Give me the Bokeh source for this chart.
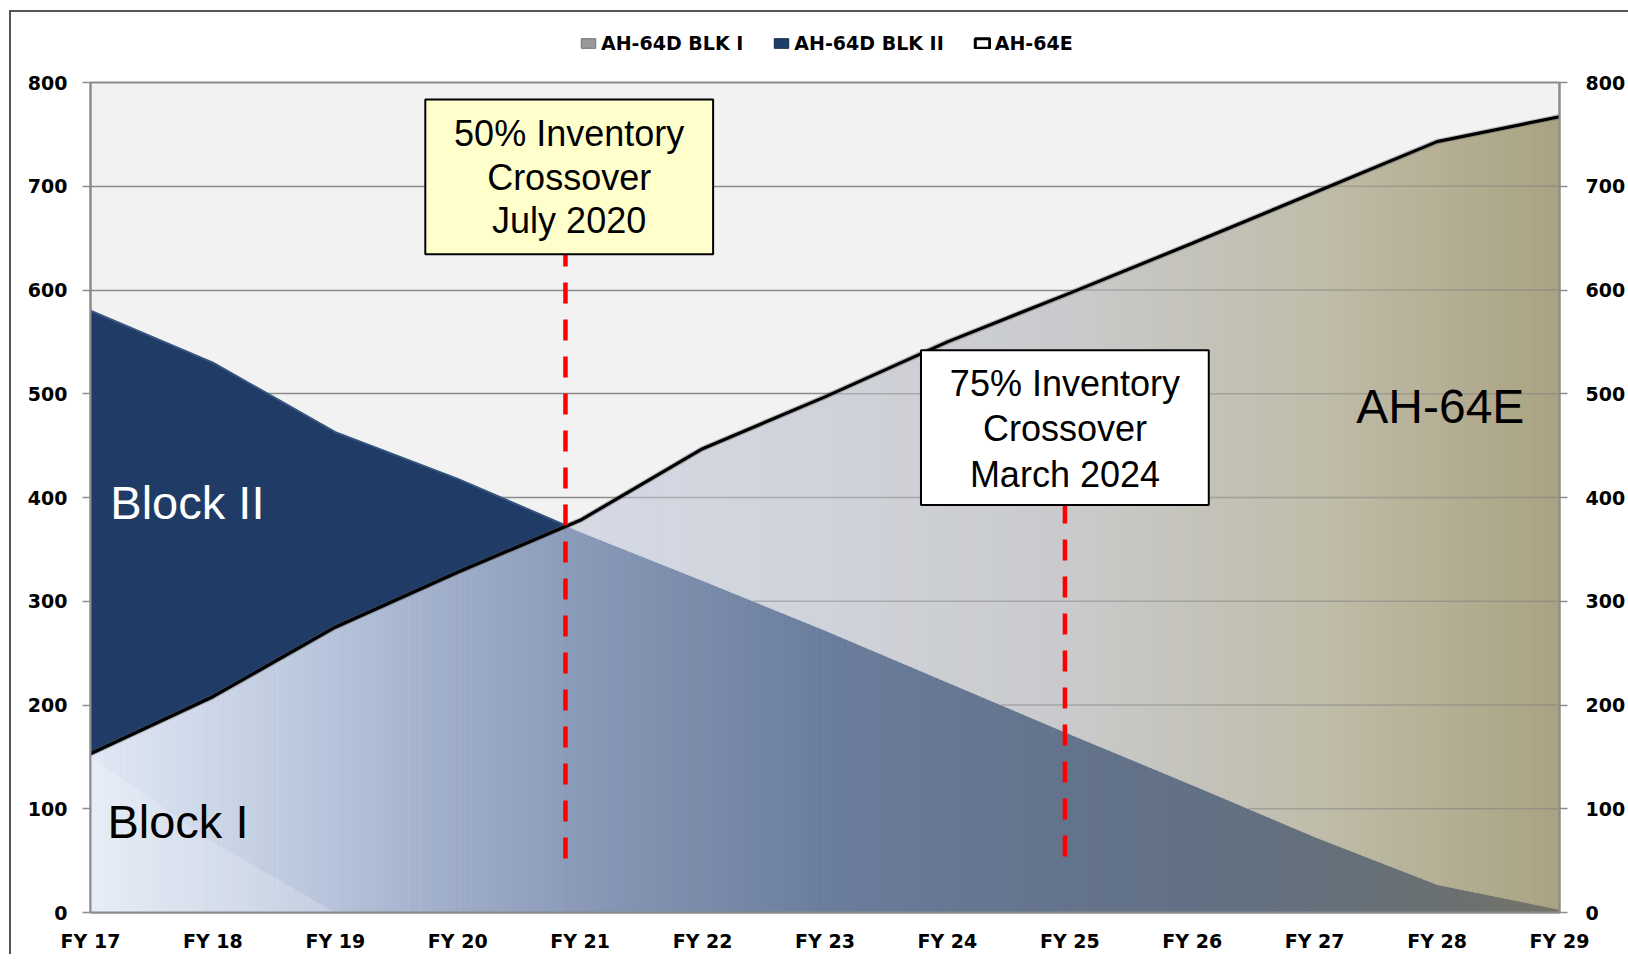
import numpy as np
from bokeh.plotting import figure
from bokeh.layouts import column
from bokeh.models import (Range1d, LinearAxis, FixedTicker, Legend, LegendItem,
                          ColumnDataSource)
from bokeh.core.properties import value
from bokeh.embed import file_html
from bokeh.resources import INLINE

# ---------------- data ----------------
fiscal_years = ["FY 17", "FY 18", "FY 19", "FY 20", "FY 21", "FY 22", "FY 23",
                "FY 24", "FY 25", "FY 26", "FY 27", "FY 28", "FY 29"]
blk1 = [150, 68, 0, 0, 0, 0, 0, 0, 0, 0, 0, 0, 0]
blk2 = [580, 530, 463, 418, 367, 320, 272, 222, 172, 123, 73, 27, 3]
ah64e = [153, 208, 275, 328, 378, 447, 497, 550, 597, 645, 694, 743, 767]
y_ticks = [0, 100, 200, 300, 400, 500, 600, 700, 800]
legend_labels = ["AH-64D BLK I", "AH-64D BLK II", "AH-64E"]

# annotation positions (fiscal-year axis units)
cross50_x = 3.88      # July 2020
cross75_x = 7.96      # March 2024
cross50_text = ["50% Inventory", "Crossover", "July 2020"]
cross75_text = ["75% Inventory", "Crossover", "March 2024"]

FIG_W = 1617
LEG_H = 60

# ---------------- legend strip (own small figure above the chart) ----------------
lf = figure(width=FIG_W, height=LEG_H, output_backend="svg", toolbar_location=None,
            x_range=Range1d(0, 1), y_range=Range1d(0, 1),
            x_axis_location=None, y_axis_location=None,
            min_border=0)
lf.outline_line_color = None
lf.background_fill_color = "white"
lf.border_fill_color = "white"
lf.grid.visible = False
nan = [np.nan]
lg1 = lf.quad(left=nan, right=nan, top=nan, bottom=nan, fill_color="#9a9a9a", line_color="#6f6f6f")
lg2 = lf.quad(left=nan, right=nan, top=nan, bottom=nan, fill_color="#1f3d6b", line_color="#16294a")
lg3 = lf.quad(left=nan, right=nan, top=nan, bottom=nan, fill_color="white", line_color="black",
              line_width=3)
tick_font = "DejaVu Sans"
legend = Legend(items=[LegendItem(label=legend_labels[0], renderers=[lg1]),
                       LegendItem(label=legend_labels[1], renderers=[lg2]),
                       LegendItem(label=legend_labels[2], renderers=[lg3])],
                orientation="horizontal", location=(485, 14),
                label_text_font=tick_font, label_text_font_style="bold",
                label_text_font_size="19px", label_text_color="black",
                glyph_width=18, glyph_height=12,
                label_standoff=4, spacing=29, padding=4, margin=0,
                background_fill_alpha=0, border_line_alpha=0)
lf.add_layout(legend, "center")

# ---------------- main chart ----------------
x = np.arange(len(fiscal_years), dtype=float)
a = np.array(ah64e, dtype=float)
b = np.array(blk2, dtype=float)

p = figure(width=FIG_W, height=882, output_backend="svg", toolbar_location=None,
           x_range=Range1d(0, x[-1]), y_range=Range1d(0, 800),
           min_border_left=79, min_border_right=68, min_border_top=10,
           min_border_bottom=39)
p.background_fill_color = "#f2f2f2"
p.border_fill_color = "white"
p.outline_line_color = "#8c8c8c"
p.outline_line_width = 2

p.xgrid.visible = False
p.ygrid.ticker = FixedTicker(ticks=y_ticks)
p.ygrid.grid_line_color = "#8c8c8c"
p.ygrid.grid_line_width = 1.5

p.xaxis.ticker = FixedTicker(ticks=list(x))
p.xaxis.major_label_overrides = {int(i): fy for i, fy in enumerate(fiscal_years)}
p.xaxis.major_tick_line_color = None
p.xaxis.minor_tick_line_color = None
p.xaxis.axis_line_color = "#8c8c8c"
p.xaxis.axis_line_width = 2
p.xaxis.major_label_standoff = 11
p.xaxis.major_label_text_font = tick_font
p.xaxis.major_label_text_font_style = "bold"
p.xaxis.major_label_text_font_size = "19px"
p.xaxis.major_label_text_color = "black"

p.yaxis.ticker = FixedTicker(ticks=y_ticks)
right_axis = LinearAxis(ticker=FixedTicker(ticks=y_ticks))
p.add_layout(right_axis, "right")
for ax in [p.yaxis[0], right_axis]:
    ax.major_label_text_font = tick_font
    ax.major_label_text_font_style = "bold"
    ax.major_label_text_font_size = "19px"
    ax.major_label_text_color = "black"
    ax.major_tick_out = 8
    ax.major_tick_in = 0
    ax.major_tick_line_color = "#8c8c8c"
    ax.major_tick_line_width = 1.5
    ax.minor_tick_line_color = None
    ax.axis_line_color = "#8c8c8c"
    ax.axis_line_width = 2
p.yaxis[0].major_label_standoff = 15
right_axis.major_label_standoff = 18

# Block II (opaque dark blue)
p.varea(x=x, y1=np.zeros_like(b), y2=b, fill_color="#1f3b66")
p.line(x=x, y=b, line_color="#35557f", line_width=2)

# AH-64E gradient area, drawn as thin vertical strips
above_stops = [(0, (232, 237, 246)), (2, (222, 228, 240)), (4, (212, 217, 228)),
               (6, (208, 211, 218)), (8, (201, 202, 204)), (10, (192, 189, 170)),
               (12, (170, 163, 130))]
below_stops = [(0, (226, 233, 245)), (1, (205, 215, 232)), (2, (182, 195, 218)),
               (3, (158, 173, 200)), (4, (138, 154, 184)), (5, (122, 140, 170)),
               (6, (108, 126, 157)), (7, (102, 120, 148)), (8, (100, 116, 140)),
               (9, (98, 113, 133)), (10, (100, 112, 124)), (11, (106, 112, 114)),
               (12, (116, 116, 104))]


def grad(stops, t):
    xs = [s[0] for s in stops]
    rgb = [int(round(np.interp(t, xs, [s[1][k] for s in stops]))) for k in range(3)]
    return "#%02x%02x%02x" % tuple(rgb)


N = 24
sx, sy, sc = [], [], []
for i in range(len(x) - 1):
    d0 = a[i] - b[i]
    d1 = a[i + 1] - b[i + 1]
    ts = [k / N for k in range(N + 1)]
    if d0 * d1 < 0:
        ts.append(d0 / (d0 - d1))
    ts = sorted(set(ts))
    for t0, t1 in zip(ts[:-1], ts[1:]):
        xa = x[i] + (x[i + 1] - x[i]) * t0
        xb = x[i] + (x[i + 1] - x[i]) * t1
        aa = a[i] + (a[i + 1] - a[i]) * t0
        ab = a[i] + (a[i + 1] - a[i]) * t1
        ba = b[i] + (b[i + 1] - b[i]) * t0
        bb = b[i] + (b[i + 1] - b[i]) * t1
        ma, mb = min(aa, ba), min(ab, bb)
        xm = 0.5 * (xa + xb)
        sx.append([xa, xb, xb, xa]); sy.append([0, 0, mb, ma]); sc.append(grad(below_stops, xm))
        if aa - ma > 1e-9 or ab - mb > 1e-9:
            sx.append([xa, xb, xb, xa]); sy.append([ma, mb, ab, aa]); sc.append(grad(above_stops, xm))

strip_src = ColumnDataSource(dict(xs=sx, ys=sy, c=sc))
p.patches(xs="xs", ys="ys", source=strip_src, fill_color="c", line_color="c", line_width=1)

# Block I (subtle light overlay)
p.varea(x=x, y1=np.zeros(len(blk1)), y2=blk1, fill_color="white", fill_alpha=0.2)

# gridlines showing through the translucent AH-64E area
g0, g1, gy = [], [], []
for g in y_ticks[1:-1]:
    xb_ = np.interp(g, b[::-1], x[::-1])
    xa_ = np.interp(g, a, x)
    st = max(xb_, xa_)
    if st < x[-1]:
        g0.append(st); g1.append(x[-1]); gy.append(g)
p.segment(x0=g0, y0=gy, x1=g1, y1=gy, line_color="#7a7a7a", line_alpha=0.45, line_width=1.5)

# AH-64E line
p.line(x=x, y=a, line_color="#555555", line_width=5.5, line_alpha=0.35)
p.line(x=x, y=a, line_color="black", line_width=3.2)

# red dashed crossover markers
p.segment(x0=[cross50_x, cross75_x], y0=[52, 54], x1=[cross50_x, cross75_x], y1=[634, 393],
          line_color="#ff0000", line_width=4.5, line_dash="21 16")

# callout boxes
p.quad(left=[2.735], right=[5.086], bottom=[634.4], top=[783.6],
       fill_color="#ffffcc", line_color="black", line_width=2)
p.quad(left=[6.784], right=[9.135], bottom=[392.8], top=[542.0],
       fill_color="white", line_color="black", line_width=2)
box_font = value("Liberation Sans")
p.text(x=[3.91] * 3, y=[751.3, 708.5, 666.6], text=cross50_text, text_align="center",
       text_baseline="alphabetic", text_font=box_font, text_font_size="36px", text_color="black")
p.text(x=[7.96] * 3, y=[509.7, 466.7, 422.4], text=cross75_text, text_align="center",
       text_baseline="alphabetic", text_font=box_font, text_font_size="36px", text_color="black")

# series labels
p.text(x=[0.162], y=[395.5], text=["Block II"], text_align="left", text_baseline="alphabetic",
       text_font=box_font, text_font_size="47px", text_color="white")
p.text(x=[0.138], y=[87.7], text=["Block I"], text_align="left", text_baseline="alphabetic",
       text_font=box_font, text_font_size="47px", text_color="black")
p.text(x=[10.34], y=[488], text=["AH-64E"], text_align="left", text_baseline="alphabetic",
       text_font=box_font, text_font_size="48px", text_color="black")

layout = column(lf, p, spacing=0, margin=(10, 0, 0, 9),
                styles={"border-top": "2px solid #555555", "border-left": "2px solid #555555"})
open("out.html", "w").write(file_html(layout, INLINE))
